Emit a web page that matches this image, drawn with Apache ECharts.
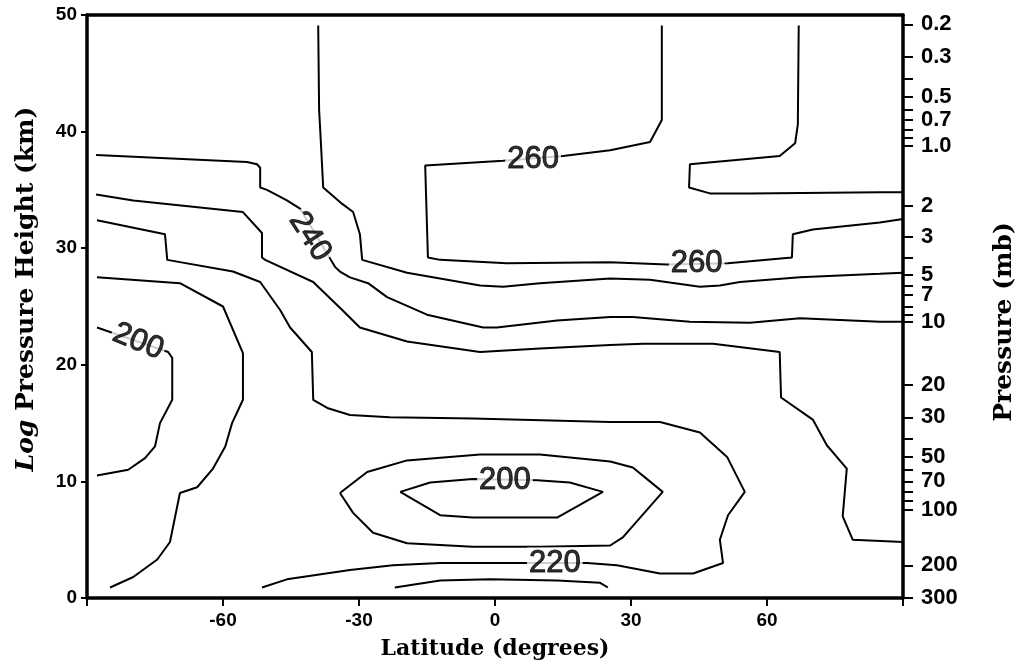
<!DOCTYPE html>
<html>
<head>
<meta charset="utf-8">
<script src="https://cdn.jsdelivr.net/npm/echarts@6/dist/echarts.min.js"></script>
<style>html,body{margin:0;padding:0;background:#fff}#c{width:1026px;height:668px}</style>
</head>
<body>
<div id="c"></div>
<script>
// ---- contour lines: [latitude (deg), log-pressure height (km)] ----
const c260a = [[36.8,49.1],[36.8,41.0],[34.2,39.1],[25.4,38.4],[15.0,37.9],[1.8,37.5],[-15.4,37.1],[-14.8,29.2],[-12.1,29.0],[2.6,28.7],[25.4,28.8],[37.9,28.6],[51.4,28.7],[65.5,29.2],[65.7,31.2],[70.1,31.6],[84.9,32.2],[90,32.5]];
const c260b = [[67.0,49.1],[66.8,40.6],[66.2,39.0],[62.8,37.9],[43.0,37.2],[42.8,35.2],[47.4,34.7],[56.2,34.7],[84.9,34.8],[90,34.8]];
const c250 = [[-39.0,49.1],[-38.8,41.9],[-38.4,39.0],[-37.9,35.2],[-33.7,33.8],[-31.3,33.1],[-29.8,31.2],[-29.3,29.0],[-19.4,27.9],[-3.3,26.8],[1.8,26.7],[9.9,27.0],[25.4,27.4],[34.2,27.3],[45.2,26.7],[49.6,26.8],[54.0,27.1],[67.3,27.5],[84.9,27.8],[90,27.9]];
const c240 = [[-88.0,38.0],[-54.7,37.4],[-52.5,37.2],[-51.8,36.9],[-51.8,35.2],[-50.3,35.0],[-45.9,34.1],[-43.0,33.4],[-35.3,28.4],[-34.2,28.0],[-32.0,27.5],[-28.0,27.0],[-23.8,25.8],[-15.0,24.3],[-2.6,23.2],[0.4,23.2],[13.7,23.8],[25.4,24.1],[30.4,24.1],[43.0,23.7],[56.2,23.6],[67.3,24.0],[84.9,23.7],[90,23.7]];
const c230 = [[-88.0,34.6],[-79.8,34.1],[-55.6,33.1],[-51.4,31.3],[-51.4,29.2],[-50.7,29.0],[-40.1,27.1],[-33.7,24.7],[-29.8,23.2],[-19.4,22.0],[-3.3,21.1],[9.9,21.4],[25.4,21.7],[32.6,21.8],[48.1,21.8],[62.8,21.1],[63.1,17.2],[70.1,15.3],[73.2,13.1],[77.6,11.1],[76.7,7.0],[78.9,5.0],[90,4.8]];
const c230b = [[-22.1,0.9],[-12.1,1.5],[-1.1,1.6],[13.7,1.5],[23.2,1.3],[24.9,0.9]];
const c220 = [[-87.8,32.4],[-72.8,31.2],[-72.3,29.0],[-57.8,28.0],[-51.8,27.1],[-47.4,24.7],[-45.2,23.2],[-40.4,21.1],[-40.1,17.0],[-37.0,16.3],[-32.0,15.7],[-23.2,15.5],[-4.9,15.4],[25.4,15.1],[36.4,15.1],[45.2,14.2],[51.2,12.1],[55.1,9.1],[51.4,7.1],[49.6,5.0],[50.3,3.0],[43.7,2.1],[36.4,2.1],[26.9,2.8],[20.3,3.0],[7.1,3.0],[-12.1,3.0],[-22.5,2.8],[-32.0,2.4],[-45.9,1.6],[-51.4,0.9]];
const c210loop = [[-34.2,9.0],[-28.2,10.8],[-19.4,11.8],[-3.3,12.3],[9.9,12.3],[25.4,11.7],[30.4,11.2],[37.0,9.1],[28.2,5.2],[25.4,4.5],[9.9,4.4],[-4.9,4.4],[-19.4,4.7],[-26.9,5.6],[-31.3,7.3],[-34.2,9.0]];
const c200loop = [[-20.9,9.1],[-14.3,9.9],[-4.9,10.2],[9.3,10.1],[16.5,9.9],[23.8,9.1],[13.7,6.9],[-4.9,6.9],[-12.1,7.1],[-20.9,9.1]];
const c210 = [[-87.8,27.5],[-69.5,27.0],[-60.0,25.0],[-55.6,21.0],[-55.6,17.0],[-58.0,15.0],[-59.5,13.0],[-62.2,11.1],[-65.7,9.5],[-69.5,9.0],[-71.7,4.8],[-74.5,3.3],[-79.8,1.8],[-84.9,0.9]];
const c200 = [[-87.8,23.2],[-72.1,21.1],[-71.2,20.6],[-71.2,17.0],[-73.9,15.0],[-75.0,13.0],[-77.2,12.0],[-80.9,11.0],[-87.8,10.5]];

// ---- contour labels ----
const labelTexts = ['260','260','240','200','220','200'];
const labelPoints = [[8.4,37.6],[44.5,28.7],[-40.8,31.0],[2.2,10.1],[13.2,3.0],[-78.7,22.0]];

// ---- axes ----
const pressureLabels = ['0.2','0.3','0.5','0.7','1.0','2','3','5','7','10','20','30','50','70','100','200','300'];
const pressureLabelHeights = [49.2,46.4,43.0,41.0,38.8,33.6,31.0,27.7,26.0,23.7,18.3,15.5,12.1,10.0,7.55,2.8,0];
const pressureMinorHeights = [44.5,41.9,40.15,39.45,29.2,26.8,25.0,24.3,13.7,11.0,9.1,8.3];

const lines = [c260a,c260b,c250,c240,c230,c230b,c220,c210loop,c200loop,c210,c200];
const labelRot = [0,0,-57,0,0,-22];

const series = lines.map(d => ({
  type:'line', data:d, xAxisIndex:0, yAxisIndex:0,
  showSymbol:false, symbol:'none', smooth:false, silent:true, z:2,
  lineStyle:{color:'#000', width:2}
}));
series.push({
  type:'scatter', xAxisIndex:0, yAxisIndex:0, symbolSize:0, z:5, silent:true,
  data: labelTexts.map((t,i)=>({name:t, value:labelPoints[i], label:{rotate:labelRot[i]}})),
  label:{show:true, position:'inside', formatter:p=>p.name, color:'#000',
    fontFamily:'Liberation Sans', fontSize:31, textBorderColor:'#000', textBorderWidth:1,
    backgroundColor:'#fff', padding:[0,2,0,2]}
});

const axisLineStyle = {color:'#000', width:3.5};
const tickFont = {color:'#000', fontFamily:'Liberation Sans', fontWeight:'bold'};
const titleFont = 'bold 22px "DejaVu Serif"';
const sideTitleFont = 'bold 25px "DejaVu Serif"';

const option = {
  animation:false,
  backgroundColor:'#fff',
  grid:{left:87, right:123, top:15, bottom:70},
  xAxis:[
    {type:'value', min:-90, max:90, interval:30, position:'bottom',
      axisLine:{show:true, onZero:false, lineStyle:axisLineStyle},
      axisTick:{show:true, length:8, lineStyle:{color:'#000', width:2}},
      axisLabel:Object.assign({margin:13, fontSize:19, formatter:v=>(v===-90||v===90)?'':String(v)}, tickFont),
      splitLine:{show:false}},
    {type:'value', min:-90, max:90, position:'top',
      axisLine:{show:true, onZero:false, lineStyle:axisLineStyle},
      axisTick:{show:false}, axisLabel:{show:false}, splitLine:{show:false}}
  ],
  yAxis:[
    {type:'value', min:0, max:50, interval:10, position:'left',
      axisLine:{show:true, onZero:false, lineStyle:axisLineStyle},
      axisTick:{show:true, length:6, lineStyle:{color:'#000', width:2}},
      axisLabel:Object.assign({margin:10, fontSize:19}, tickFont),
      splitLine:{show:false}},
    {type:'value', min:0, max:50, position:'right',
      axisLine:{show:true, onZero:false, lineStyle:axisLineStyle},
      axisTick:{show:true, length:10, customValues:pressureLabelHeights.concat(pressureMinorHeights), lineStyle:{color:'#000', width:2}},
      axisLabel:Object.assign({margin:18, fontSize:22, customValues:pressureLabelHeights,
        formatter:v=>{let bi=0,bd=1e9;pressureLabelHeights.forEach((h,i)=>{const d=Math.abs(h-v);if(d<bd){bd=d;bi=i;}});return pressureLabels[bi];}}, tickFont),
      splitLine:{show:false}}
  ],
  graphic:[
    {type:'text', x:495, y:649, style:{text:'Latitude (degrees)', font:titleFont, fill:'#000', align:'center', verticalAlign:'middle'}},
    {type:'text', x:26, y:289, rotation:Math.PI/2, style:{text:'{i|Log} Pressure Height (km)', font:sideTitleFont, fill:'#000', align:'center', verticalAlign:'middle',
      rich:{i:{fontStyle:'italic', fontWeight:'bold', fontFamily:'DejaVu Serif', fontSize:25}}}},
    {type:'text', x:1004, y:322, rotation:Math.PI/2, style:{text:'Pressure (mb)', font:sideTitleFont, fill:'#000', align:'center', verticalAlign:'middle'}}
  ],
  series:series
};
const chart = echarts.init(document.getElementById('c'), null, {renderer:'canvas'});
chart.setOption(option);
</script>
</body>
</html>
